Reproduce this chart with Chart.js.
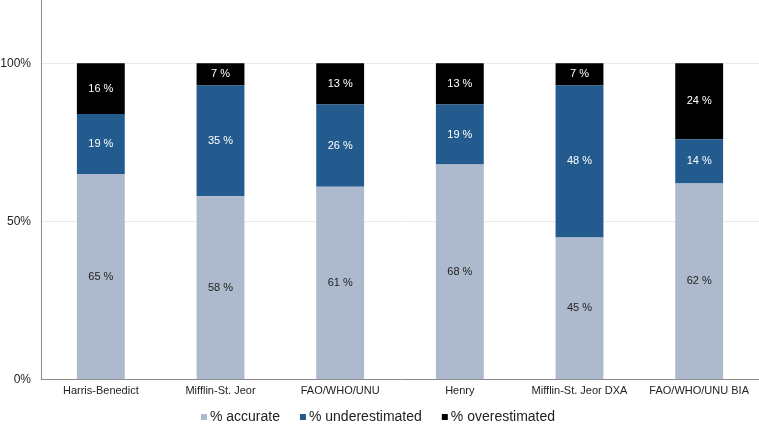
<!DOCTYPE html>
<html><head><meta charset="utf-8">
<script src="https://cdn.jsdelivr.net/npm/chart.js@4"></script>
<style>html,body{margin:0;padding:0;background:#fff}#wrap{width:759px;height:424px}</style>
</head><body><div id="wrap"><canvas id="c"></canvas></div>
<script>
const categories = ["Harris-Benedict","Mifflin-St. Jeor","FAO/WHO/UNU","Henry","Mifflin-St. Jeor DXA","FAO/WHO/UNU BIA"];
const accurate = [65,58,61,68,45,62];
const underestimated = [19,35,26,19,48,14];
const overestimated = [16,7,13,13,7,24];
const yTicks = [0,50,100];
const FONT = '"Liberation Sans", Arial, sans-serif';

const labelPlugin = {
  id:'barLabels',
  afterDatasetsDraw(chart){
    const ctx = chart.ctx;
    ctx.save();
    ctx.font = '11px ' + FONT;
    ctx.textAlign='center'; ctx.textBaseline='middle';
    chart.data.datasets.forEach((ds,i)=>{
      const meta = chart.getDatasetMeta(i);
      meta.data.forEach((el,j)=>{
        const y = (el.y + el.base)/2;
        ctx.fillStyle = ds.labelColor;
        ctx.fillText(ds.data[j]+' %', el.x, y);
      });
    });
    ctx.restore();
  }
};

const legendPlugin = {
  id:'customLegend',
  afterDraw(chart){
    const ctx = chart.ctx;
    ctx.save();
    ctx.font = '14px ' + FONT;
    ctx.textBaseline = 'alphabetic';
    ctx.textAlign = 'left';
    const box = 6, gapText = 3, gapItem = 20;
    const items = chart.data.datasets.map(ds=>({label:ds.label,color:ds.backgroundColor,w:ctx.measureText(ds.label).width}));
    const total = items.reduce((s,it)=>s+box+gapText+it.w,0) + gapItem*(items.length-1);
    let x = 378 - total/2;
    const baseline = chart.height - 3;
    items.forEach(it=>{
      ctx.fillStyle = it.color;
      ctx.fillRect(x, baseline-7, box, box);
      ctx.fillStyle = '#222';
      ctx.fillText(it.label, x+box+gapText, baseline);
      x += box+gapText+it.w+gapItem;
    });
    ctx.restore();
  }
};

new Chart(document.getElementById('c'),{
  type:'bar',
  data:{labels:categories,datasets:[
    {label:'% accurate',data:accurate,backgroundColor:'#adb9cc',labelColor:'#222'},
    {label:'% underestimated',data:underestimated,backgroundColor:'#245b8e',labelColor:'#fff'},
    {label:'% overestimated',data:overestimated,backgroundColor:'#000000',labelColor:'#fff'}
  ]},
  options:{
    responsive:true,maintainAspectRatio:false,animation:false,
    datasets:{bar:{barPercentage:0.8,categoryPercentage:0.5}},
    layout:{padding:{top:0,left:0,right:0,bottom:21}},
    plugins:{
      legend:{display:false},
      tooltip:{enabled:false}
    },
    scales:{
      x:{stacked:true,grid:{display:false,drawTicks:false},border:{color:'#888'},
         ticks:{color:'#222',padding:5,font:{family:FONT,size:11}}},
      y:{stacked:true,min:0,max:120,
         afterBuildTicks(s){s.ticks=yTicks.map(v=>({value:v}));},
         afterFit(s){s.width=41;s.paddingTop=0;s.paddingBottom=0;},
         grid:{color:'#eaeaea',drawTicks:false},border:{color:'#888'},
         ticks:{padding:10,color:'#222',callback:v=>v+'%',font:{family:FONT,size:12}}}
    }
  },
  plugins:[labelPlugin, legendPlugin]
});
</script></body></html>
